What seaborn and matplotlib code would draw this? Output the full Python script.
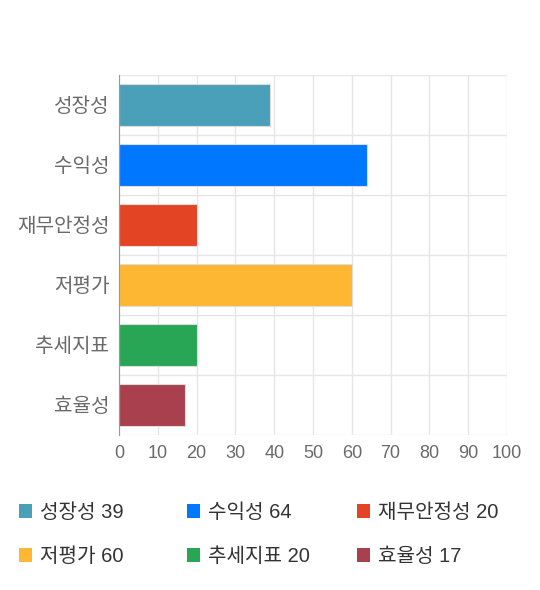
import matplotlib
matplotlib.use("Agg")
import matplotlib.pyplot as plt
import seaborn as sns
import pandas as pd
from matplotlib.patches import Patch
from matplotlib.ticker import FixedLocator

categories = ["성장성", "수익성", "재무안정성", "저평가", "추세지표", "효율성"]
values = [39, 64, 20, 60, 20, 17]
colors = ["#4aa0b9", "#0077ff", "#e34524", "#fdb733", "#28a656", "#a8404e"]
x_ticks = [0, 10, 20, 30, 40, 50, 60, 70, 80, 90, 100]

sns.set_style("white")
plt.rcParams["font.family"] = ["Liberation Sans", "Noto Sans CJK KR", "DejaVu Sans"]

df = pd.DataFrame({"category": categories, "value": values})

fig = plt.figure(figsize=(5.4, 5.9), dpi=100)
ax = fig.add_axes([119 / 540, 1 - 435 / 590, (507 - 119) / 540, (435 - 75) / 590])

sns.barplot(data=df, y="category", x="value", hue="category",
            palette=dict(zip(categories, colors)), orient="h", width=0.7,
            legend=False, ax=ax, edgecolor="#dddddd", linewidth=0.8, saturation=1)

ax.set_xlim(0, 100)
ax.set_ylim(len(categories) - 0.5, -0.5)
ax.set_xlabel("")
ax.set_ylabel("")

ax.xaxis.set_major_locator(FixedLocator(x_ticks))
ax.yaxis.set_minor_locator(FixedLocator([i - 0.5 for i in range(len(categories) + 1)]))

ax.grid(True, axis="x", which="major", color="#e6e6e6", linewidth=1)
ax.grid(True, axis="y", which="minor", color="#e6e6e6", linewidth=1)
ax.set_axisbelow(True)

for s in ["top", "right", "bottom"]:
    ax.spines[s].set_visible(False)
ax.spines["left"].set_color("#999999")
ax.spines["left"].set_linewidth(0.8)

ax.tick_params(axis="y", which="major", length=0, pad=7, labelsize=14.5, labelcolor="#6a6a6a")
ax.tick_params(axis="y", which="minor", length=9, color="#e6e6e6", width=1)
ax.tick_params(axis="x", which="major", length=5, color="#e6e6e6", width=1,
               labelsize=13, labelcolor="#6a6a6a", pad=2)

# legend: three columns of two entries
cols = [(0, 3), (1, 4), (2, 5)]
xs = [19 / 540, 187 / 540, 357 / 540]
for (i, j), x in zip(cols, xs):
    handles = [Patch(facecolor=colors[k], edgecolor="none", label=f"{categories[k]} {values[k]}")
               for k in (i, j)]
    leg = fig.legend(handles=handles, loc="upper left", bbox_to_anchor=(x, 1 - 503 / 590),
                     frameon=False, fontsize=14.5, handlelength=0.65, handleheight=0.65,
                     handletextpad=0.4, labelspacing=1.25, borderaxespad=0, borderpad=0)
    for t in leg.get_texts():
        t.set_color("#333333")

fig.savefig("out.png", dpi=100)
